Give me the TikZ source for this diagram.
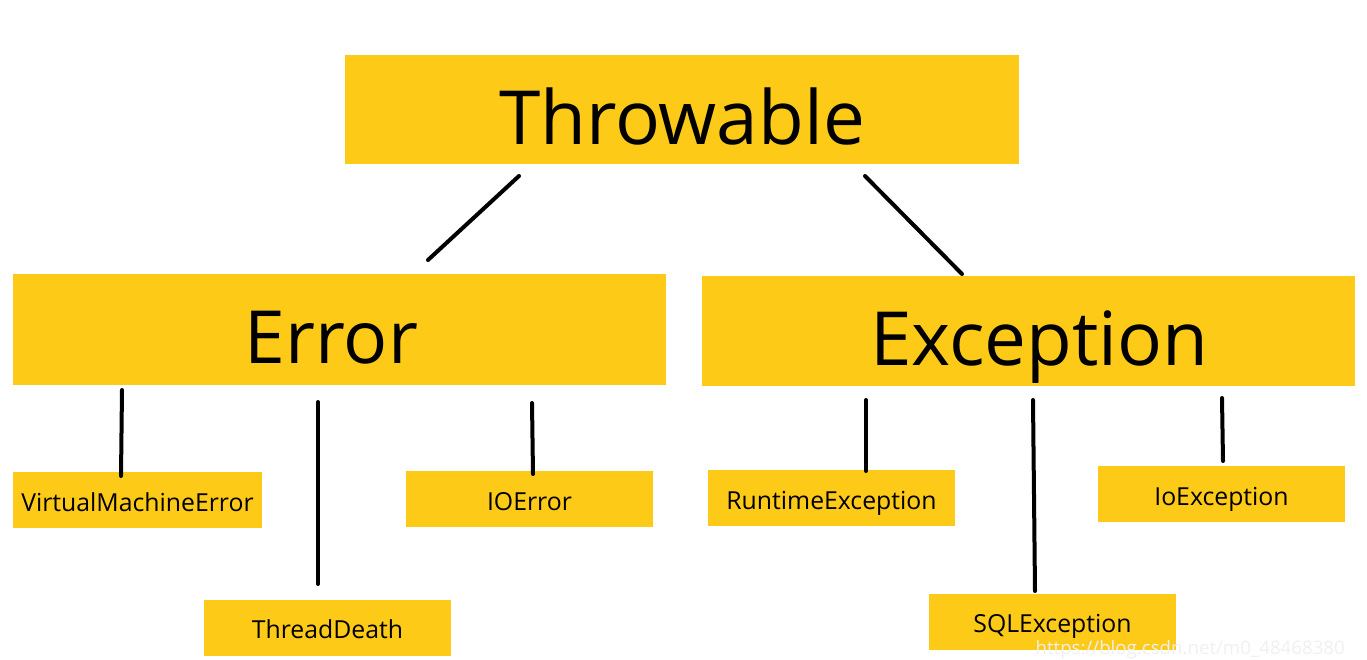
\documentclass[tikz,border=0pt]{standalone}
\usepackage{fontspec}
\setmainfont{Open Sans}
\definecolor{boxyellow}{HTML}{FECA18}
\begin{document}
\begin{tikzpicture}[x=0.75pt,y=-0.75pt,
  box/.style={fill=boxyellow, inner sep=0pt, anchor=center, text=black, text depth=0pt},
  big/.style={box, font=\fontsize{56}{64}\selectfont, text height=52pt},
  mid/.style={box, font=\fontsize{55}{63}\selectfont, text height=51.3pt},
  small/.style={box, font=\fontsize{18.6}{22}\selectfont, text height=16.5pt, minimum width=185.5pt, minimum height=42pt},
  link/.style={line width=3pt, line cap=round}]
\useasboundingbox (0,0) rectangle (1367,660);
\node[big, minimum width=505.5pt, minimum height=81.75pt] (thr) at (682,109.5) {Throwable};
\node[mid, minimum width=489.75pt, minimum height=83.25pt] (err) at (339.5,329.5) {\hspace*{-12pt}Error};
\node[mid, font=\fontsize{56}{64}\selectfont, minimum width=489.75pt, minimum height=82.5pt] (exc) at (1028.5,331) {Exception\hspace*{-16.5pt}};
\node[small, minimum width=186.75pt] (vme) at (137.5,500) {VirtualMachineError};
\node[small] (td) at (327.5,627.5) {ThreadDeath};
\node[small] (ioe) at (529.5,499) {IOError};
\node[small] (rte) at (831.5,498) {RuntimeException};
\node[small] (sql) at (1052.5,621.5) {SQLException};
\node[small] (iox) at (1221.5,494) {IoException};
\coordinate (a1) at (519,176); \coordinate (a2) at (428,260);
\coordinate (b1) at (865,176); \coordinate (b2) at (962,274);
\coordinate (c1) at (122,390); \coordinate (c2) at (121,476);
\coordinate (d1) at (318,402); \coordinate (d2) at (318,584);
\coordinate (e1) at (532,403); \coordinate (e2) at (533,474);
\coordinate (f1) at (866,400); \coordinate (f2) at (866,471);
\coordinate (g1) at (1033,400); \coordinate (g2) at (1035,591);
\coordinate (h1) at (1222,398); \coordinate (h2) at (1223,461);
\draw[link] (a1) -- (a2);
\draw[link] (b1) -- (b2);
\draw[link] (c1) -- (c2);
\draw[link] (d1) -- (d2);
\draw[link] (e1) -- (e2);
\draw[link] (f1) -- (f2);
\draw[link] (g1) -- (g2);
\draw[link] (h1) -- (h2);
\node[text=black!6, font=\fontsize{14}{16}\selectfont, anchor=south east, inner sep=0pt] (wm) at (1345,659) {https://blog.csdn.net/m0\_48468380};
\end{tikzpicture}
\end{document}
